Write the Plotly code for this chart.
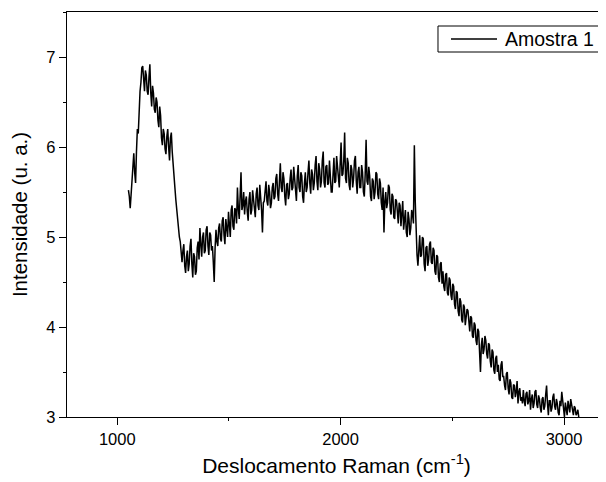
import plotly.graph_objects as go

intensity = [
    5.52, 5.45, 5.32, 5.48, 5.55, 5.70, 5.93, 5.72, 5.60, 5.95, 6.20, 6.15, 6.45, 6.62, 6.72, 6.88, 6.90, 6.70, 6.62, 6.85,
    6.80, 6.62, 6.58, 6.78, 6.92, 6.60, 6.45, 6.68, 6.60, 6.42, 6.38, 6.55, 6.50, 6.30, 6.22, 6.45, 6.35, 6.10, 6.02, 6.20,
    6.15, 5.98, 5.92, 6.12, 6.20, 6.00, 5.85, 6.10, 6.16, 5.95, 5.78, 5.70, 5.55, 5.42, 5.30, 5.20, 5.12, 5.00, 4.95, 4.80,
    4.72, 4.85, 4.92, 4.68, 4.60, 4.78, 4.85, 4.62, 4.70, 4.90, 4.98, 4.70, 4.55, 4.82, 4.78, 4.58, 4.62, 4.88, 4.95, 4.75,
    5.10, 4.92, 4.78, 5.00, 5.05, 4.82, 4.85, 5.08, 5.12, 4.90, 4.80, 5.05, 5.02, 4.85, 4.90, 4.72, 4.50, 4.88, 5.08, 4.95,
    4.90, 5.10, 5.15, 4.98, 4.95, 5.18, 5.22, 5.02, 4.92, 5.20, 5.12, 5.00, 5.28, 5.10, 5.00, 5.30, 5.35, 5.12, 5.08, 5.32,
    5.30, 5.15, 5.55, 5.32, 5.20, 5.45, 5.72, 5.30, 5.35, 5.50, 5.25, 5.40, 5.45, 5.28, 5.18, 5.42, 5.50, 5.25, 5.30, 5.52,
    5.42, 5.28, 5.22, 5.48, 5.55, 5.35, 5.30, 5.58, 5.48, 5.30, 5.05, 5.38, 5.40, 5.55, 5.62, 5.40, 5.35, 5.58, 5.50, 5.32,
    5.38, 5.55, 5.60, 5.42, 5.45, 5.65, 5.70, 5.48, 5.40, 5.62, 5.82, 5.55, 5.50, 5.72, 5.65, 5.45, 5.35, 5.58, 5.60, 5.42,
    5.48, 5.65, 5.75, 5.52, 5.55, 5.78, 5.62, 5.45, 5.40, 5.68, 5.80, 5.55, 5.50, 5.72, 5.68, 5.45, 5.38, 5.60, 5.72, 5.50,
    5.55, 5.72, 5.85, 5.60, 5.48, 5.75, 5.70, 5.52, 5.60, 5.80, 5.90, 5.62, 5.52, 5.82, 5.75, 5.55, 5.62, 5.85, 5.95, 5.60,
    5.55, 5.78, 5.80, 5.58, 5.60, 5.85, 5.72, 5.50, 5.50, 5.75, 5.88, 5.60, 5.62, 5.90, 5.78, 5.58, 5.55, 5.82, 6.05, 5.68,
    5.70, 5.85, 6.16, 5.65, 5.60, 5.88, 5.82, 5.58, 5.52, 5.80, 5.75, 5.55, 5.65, 5.85, 5.90, 5.62, 5.48, 5.72, 5.78, 5.55,
    5.55, 5.80, 5.72, 5.50, 5.45, 5.70, 6.08, 5.62, 5.58, 5.78, 5.68, 5.45, 5.40, 5.65, 5.62, 5.42, 5.50, 5.72, 5.70, 5.48,
    5.42, 5.65, 5.60, 5.38, 5.30, 5.55, 5.05, 5.40, 5.50, 5.32, 5.38, 5.58, 5.55, 5.30, 5.25, 5.48, 5.45, 5.22, 5.20, 5.42,
    5.40, 5.28, 5.15, 5.38, 5.35, 5.12, 5.22, 5.40, 5.08, 5.25, 5.30, 5.05, 5.00, 5.28, 5.20, 5.02, 5.10, 5.30, 5.25, 5.15,
    6.02, 5.40, 5.05, 4.80, 4.68, 4.95, 5.02, 4.78, 4.80, 5.00, 4.98, 4.70, 4.62, 4.88, 4.90, 4.68, 4.75, 4.92, 4.95, 4.72,
    4.70, 4.88, 4.85, 4.62, 4.58, 4.80, 4.78, 4.55, 4.50, 4.70, 4.72, 4.48, 4.62, 4.45, 4.40, 4.58, 4.60, 4.38, 4.35, 4.55,
    4.52, 4.35, 4.30, 4.48, 4.45, 4.25, 4.20, 4.40, 4.38, 4.18, 4.12, 4.32, 4.28, 4.08, 4.05, 4.25, 4.22, 4.02, 4.10, 4.20,
    4.18, 4.00, 3.95, 4.12, 4.10, 3.90, 3.88, 4.05, 4.02, 3.85, 3.80, 3.98, 3.95, 3.72, 3.50, 3.80, 3.88, 3.70, 3.75, 3.90,
    3.85, 3.70, 3.65, 3.82, 3.80, 3.62, 3.55, 3.75, 3.72, 3.52, 3.48, 3.65, 3.68, 3.50, 3.58, 3.42, 3.40, 3.58, 3.62, 3.45,
    3.45, 3.35, 3.30, 3.48, 3.50, 3.32, 3.25, 3.42, 3.38, 3.22, 3.20, 3.36, 3.35, 3.22, 3.28, 3.40, 3.15, 3.28, 3.32, 3.18,
    3.22, 3.15, 3.30, 3.18, 3.12, 3.26, 3.28, 3.14, 3.18, 3.30, 3.08, 3.20, 3.25, 3.10, 3.15, 3.28, 3.30, 3.14, 3.10, 3.24,
    3.20, 3.10, 3.05, 3.20, 3.22, 3.08, 3.12, 3.25, 3.35, 3.15, 3.02, 3.18, 3.18, 3.06, 3.10, 3.22, 3.26, 3.12, 3.08, 3.20,
    3.15, 3.05, 3.02, 3.18, 3.12, 3.28, 3.20, 3.06, 3.00, 3.16, 3.10, 3.02, 3.18, 3.08, 3.05, 3.20, 3.14, 3.04, 3.02, 3.12,
    3.10, 3.02, 3.04, 3.08, 3.00,
]

# Raman shift sampling grid (cm^-1)
shift_start = 1050
shift_step = 4
shift = [shift_start + shift_step * i for i in range(len(intensity))]

x_ticks = [1000, 2000, 3000]
y_ticks = [3, 4, 5, 6, 7]
series_name = "Amostra 1"

FONT = "Liberation Sans, Arial, sans-serif"

fig = go.Figure()
fig.add_trace(go.Scatter(
    x=shift, y=intensity, mode="lines", name=series_name,
    line=dict(color="black", width=1.5), showlegend=False,
))

# Legend drawn as a framed box (Origin style) in plot-area paper coordinates
fig.add_shape(type="rect", xref="paper", yref="paper",
              x0=0.6883, x1=0.9963, y0=0.9012, y1=0.9654,
              line=dict(color="black", width=1), fillcolor="white", layer="above")
fig.add_shape(type="line", xref="paper", yref="paper",
              x0=0.7124, x1=0.7978, y0=0.9333, y1=0.9333,
              line=dict(color="black", width=1.5), layer="above")
fig.add_annotation(xref="paper", yref="paper", x=0.8089, y=0.9333,
                   xanchor="left", yanchor="middle", showarrow=False,
                   text=series_name, font=dict(size=19.5, family=FONT, color="black"))

fig.update_layout(
    width=598, height=474,
    margin=dict(l=59, r=0, t=4, b=65),
    paper_bgcolor="white", plot_bgcolor="white",
    font=dict(family=FONT, color="black", size=16),
    showlegend=False,
    xaxis=dict(
        range=[775, 3188], tickvals=x_ticks,
        showline=True, linecolor="black", linewidth=1.3, mirror=True,
        ticks="outside", ticklen=7, tickcolor="black", tickwidth=1.2,
        minor=dict(dtick=500, ticks="outside", ticklen=3, tickcolor="black"),
        showgrid=False, zeroline=False,
        title=dict(text="Deslocamento Raman (cm<sup>-1</sup>)", font=dict(size=21), standoff=11),
        tickfont=dict(size=16.5),
    ),
    yaxis=dict(
        range=[3, 7.5], tickvals=y_ticks,
        showline=True, linecolor="black", linewidth=1.3, mirror=False,
        ticks="outside", ticklen=7, tickcolor="black", tickwidth=1.2,
        minor=dict(dtick=0.5, ticks="outside", ticklen=3, tickcolor="black"),
        showgrid=False, zeroline=False,
        title=dict(text="Intensidade (u. a.)", font=dict(size=20.5), standoff=13),
        tickfont=dict(size=16.5),
    ),
)

fig.write_html("out.html")
